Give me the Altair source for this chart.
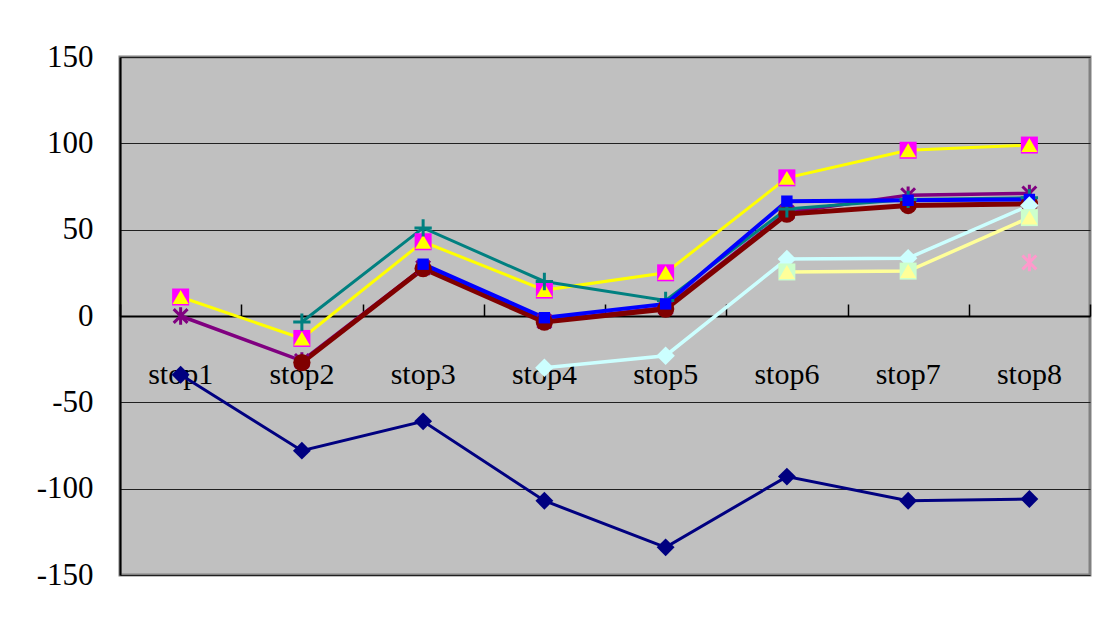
import altair as alt
import pandas as pd

stops = ["stop1", "stop2", "stop3", "stop4", "stop5", "stop6", "stop7", "stop8"]

navy_vals = [-34, -78, -61, -107, -134, -93, -107, -106]
yellow_vals = [11, -13, 43, 15, 25, 80, 96, 99]
purple_vals = [0, -26, 28, -3, 5, 60, 70, 71]
darkred_vals = [None, -27, 27.5, -3.5, 4, 59, 64, 65]
teal_vals = [None, -3.5, 51, 20, 9, 62, 67.5, 68.5]
blue_vals = [None, None, 30, -1, 7, 66.5, 67, 67.5]
cyan_vals = [None, None, None, -30, -23, 33, 33.5, 64]
lightyellow_vals = [None, None, None, None, None, 25.5, 26, 57]
pink_vals = [None, None, None, None, None, None, None, 31]

y_ticks = [-150, -100, -50, 0, 50, 100, 150]

PLUS = "M-1,0L1,0M0,-1L0,1"
ASTER = "M-0.8,-0.8L0.8,0.8M-0.8,0.8L0.8,-0.8M0,-1L0,1"

# (values, line color, line width, [(shape, color, size, filled, strokeWidth)])
series = [
    (navy_vals, "#000080", 3, [("diamond", "#000080", 320, True, 0)]),
    (yellow_vals, "#FFFF00", 3, [("square", "#FF00FF", 289, True, 0),
                                 ("triangle-up", "#FFFF00", 260, True, 0)]),
    (purple_vals, "#800080", 3.5, [(ASTER, "#800080", 300, False, 3)]),
    (darkred_vals, "#800000", 5, [("circle", "#800000", 300, True, 0)]),
    (teal_vals, "#008080", 3, [(PLUS, "#008080", 300, False, 3)]),
    (blue_vals, "#0000FF", 4, [("square", "#0000FF", 130, True, 0)]),
    (cyan_vals, "#CCFFFF", 3.5, [("diamond", "#CCFFFF", 340, True, 0)]),
    (lightyellow_vals, "#FFFF99", 3.5, [("square", "#CCFFCC", 289, True, 0),
                                        ("triangle-up", "#FFFF99", 260, True, 0)]),
    (pink_vals, "#FF99CC", 3, [(ASTER, "#FF99CC", 300, False, 3)]),
]

FONT = "Liberation Serif"
x_scale = alt.Scale(type="band", domain=stops, paddingInner=0, paddingOuter=0)
y_scale = alt.Scale(domain=[-150, 150], nice=False, zero=False)

axis_top = alt.Axis(orient="top", offset=-259, labels=False, ticks=True, tickSize=12,
                    tickBand="extent", tickColor="#000000", tickWidth=1.5,
                    domain=True, domainColor="#000000", domainWidth=2, grid=False, title=None)
axis_bottom = alt.Axis(orient="bottom", offset=-259, labels=True, ticks=False, tickSize=0,
                       domain=False, grid=False, labelPadding=43, labelFont=FONT,
                       labelAngle=0, labelFontSize=30, labelColor="#000000", title=None)
axis_y = alt.Axis(values=y_ticks, grid=True, gridColor="#202020", gridWidth=1.2,
                  domain=True, domainColor="#000000", domainWidth=2, ticks=False,
                  tickSize=0, labelPadding=27, labelFont=FONT, labelFontSize=31,
                  labelExpr="datum.value + ''",
                  labelColor="#000000", title=None)

line_layers = []
point_layers = []
for i, (vals, lcolor, lwidth, markers) in enumerate(series):
    df = pd.DataFrame({"stop": stops, "value": vals}).dropna()
    xa = axis_top if i == 0 else None
    line = alt.Chart(df).mark_line(color=lcolor, strokeWidth=lwidth).encode(
        x=alt.X("stop:N", scale=x_scale, sort=stops, axis=xa),
        y=alt.Y("value:Q", scale=y_scale, axis=axis_y),
    )
    line_layers.append(line)
    for j, (shape, mcolor, size, filled, sw) in enumerate(markers):
        xa2 = axis_bottom if (i == 0 and j == 0) else None
        if filled:
            mk = alt.Chart(df).mark_point(shape=shape, size=size, filled=True,
                                          color=mcolor, opacity=1, strokeWidth=0)
        else:
            mk = alt.Chart(df).mark_point(shape=shape, size=size, filled=False,
                                          color=mcolor, opacity=1, strokeWidth=sw)
        pt = mk.encode(
            x=alt.X("stop:N", scale=x_scale, sort=stops, axis=xa2),
            y=alt.Y("value:Q", scale=y_scale, axis=axis_y),
        )
        point_layers.append(pt)

chart = alt.layer(*line_layers, *point_layers).resolve_axis(x="independent").properties(
    width=970, height=518,
    autosize=alt.AutoSizeParams(type="none"),
    padding={"left": 112, "top": 49, "right": 11, "bottom": 45},
    background="#FFFFFF",
).configure_view(stroke="#808080", strokeWidth=3, fill="#C0C0C0")

chart.save("out.html", embed_options={"renderer": "svg", "actions": False})
